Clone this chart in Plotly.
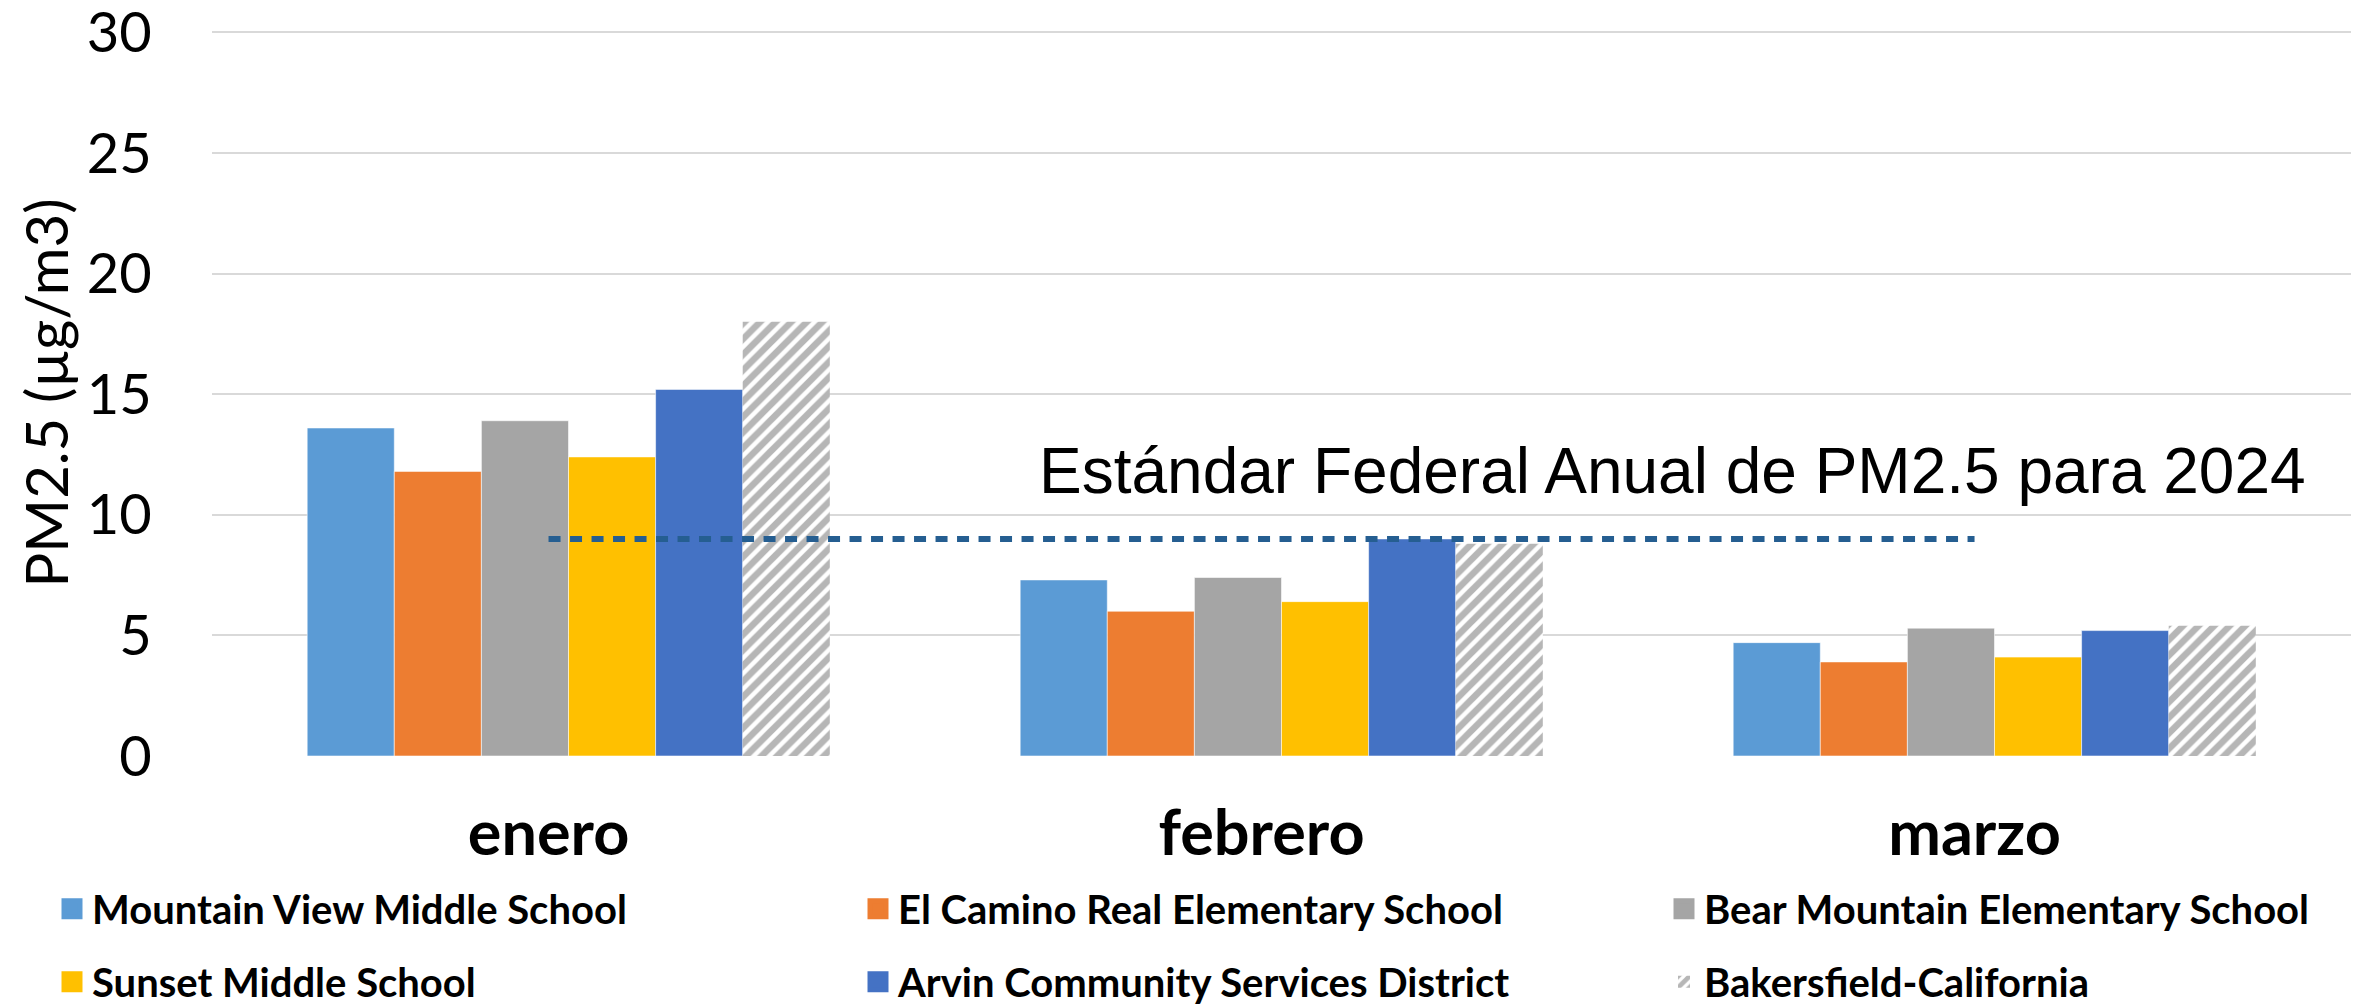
import plotly.graph_objects as go

# ---- data ----
months = ["enero", "febrero", "marzo"]
mountain_view = [13.6, 7.3, 4.7]
el_camino_real = [11.8, 6.0, 3.9]
bear_mountain = [13.9, 7.4, 5.3]
sunset = [12.4, 6.4, 4.1]
arvin = [15.2, 9.0, 5.2]
bakersfield = [18.0, 8.8, 5.4]
federal_standard = [9.0, 9.0]
standard_label = "Estándar Federal Anual de PM2.5 para 2024"
y_title = "PM2.5 (µg/m3)"
y_ticks = [0, 5, 10, 15, 20, 25, 30]

series_names = [
    "Mountain View Middle School",
    "El Camino Real Elementary School",
    "Bear Mountain Elementary School",
    "Sunset Middle School",
    "Arvin Community Services District",
    "Bakersfield-California",
]
series_values = [mountain_view, el_camino_real, bear_mountain, sunset, arvin, bakersfield]

# ---- styles ----
colors = ["#5B9BD5", "#ED7D31", "#A5A5A5", "#FFC000", "#4472C4", "#FFFFFF"]
legend_of = ["legend", "legend2", "legend3", "legend", "legend2", "legend3"]
W, H = 2369, 1006
label_shift = -0.028
x_pos = list(range(len(months)))
label_pos = [p + label_shift for p in x_pos]
hatch = dict(shape="/", fgcolor="#6E6E6E", bgcolor="#FFFFFF", size=11, solidity=0.6)

fig = go.Figure()
for i, (name, vals) in enumerate(zip(series_names, series_values)):
    is_hatched = name == "Bakersfield-California"
    if is_hatched:
        marker = dict(color="#FFFFFF", line=dict(width=0), pattern=hatch)
    else:
        marker = dict(color=colors[i], line=dict(width=1, color="rgba(255,255,255,0.55)"))
    fig.add_trace(go.Bar(
        x=x_pos, y=vals, name=name, marker=marker,
        legend=legend_of[i], legendgroup=name, showlegend=is_hatched,
    ))
    if not is_hatched:
        # legend entry with a larger square swatch (no mark drawn on the plot)
        fig.add_trace(go.Scatter(
            x=[None], y=[None], mode="markers", name=name,
            marker=dict(symbol="square", size=16, color=colors[i],
                        line=dict(width=5, color=colors[i])),
            legend=legend_of[i], legendgroup=name, showlegend=True, hoverinfo="skip",
        ))

fig.add_trace(go.Scatter(
    x=[label_pos[0], label_pos[-1]], y=federal_standard, mode="lines",
    line=dict(color="#255E91", width=6, dash="12px,9.5px"),
    showlegend=False, hoverinfo="skip",
))

fig.add_annotation(
    x=0.657, y=10.22, xref="x", yref="y", text=standard_label,
    showarrow=False, xanchor="left", yanchor="bottom",
    font=dict(family="Liberation Sans, Arial, sans-serif", size=64, color="#000000"),
)

# y-axis title
fig.add_annotation(
    x=(44 - 211.5) / (W - 211.5 - 18), y=0.5, xref="paper", yref="paper",
    text=y_title, textangle=-90, showarrow=False,
    xanchor="center", yanchor="middle",
    font=dict(family="Lato, sans-serif", size=58, color="#000000"),
)

legend_common = dict(
    xref="container", yref="container", yanchor="top", xanchor="left",
    orientation="v", traceorder="grouped", tracegroupgap=18,
    font=dict(family="Lato, sans-serif", size=40, color="#000000", weight="bold"),
    bgcolor="rgba(0,0,0,0)", borderwidth=0,
)
legend_top = 0.129

fig.update_layout(
    width=W, height=H,
    paper_bgcolor="#FFFFFF", plot_bgcolor="#FFFFFF",
    margin=dict(l=211.5, r=18, t=29.9, b=250.3, autoexpand=False),
    barmode="group", bargap=0.267, bargroupgap=0,
    font=dict(family="Lato, sans-serif", color="#000000"),
    legend=dict(x=52 / W, y=legend_top, **legend_common),
    legend2=dict(x=858 / W, y=legend_top, **legend_common),
    legend3=dict(x=1664 / W, y=legend_top, **legend_common),
    xaxis=dict(
        range=[-0.5, 2.5], tickmode="array", tickvals=label_pos, ticktext=months,
        showgrid=False, zeroline=False, showline=False,
        ticks="outside", ticklen=22, tickcolor="rgba(0,0,0,0)",
        ticklabeloverflow="allow",
        tickfont=dict(family="Lato, sans-serif", size=63, color="#000000", weight="bold"),
    ),
    yaxis=dict(
        range=[0, 30.1], tickmode="array", tickvals=y_ticks,
        showgrid=True, gridcolor="#D9D9D9", gridwidth=2,
        zeroline=False, showline=False,
        ticks="outside", ticklen=48, tickcolor="rgba(0,0,0,0)",
        ticklabeloverflow="allow",
        tickfont=dict(family="Lato, sans-serif", size=56, color="#000000"),
    ),
    showlegend=True,
)

fig.write_html("out.html", config={"displayModeBar": False},
               post_script="document.body.style.margin='0';")
